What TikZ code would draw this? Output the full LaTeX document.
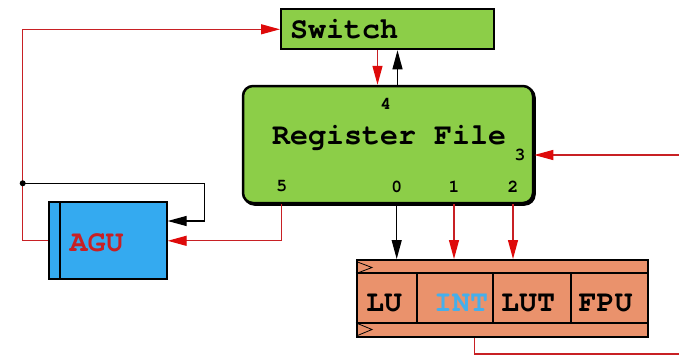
\documentclass[tikz,border=0pt]{standalone}
\usepackage{fontspec}
\newfontfamily\slabmono{TeX Gyre Cursor}
\usetikzlibrary{arrows.meta,calc}
\definecolor{rfgreen}{RGB}{140,206,72}
\definecolor{agublue}{RGB}{52,170,240}
\definecolor{eusalmon}{RGB}{234,146,108}
\definecolor{wirered}{RGB}{200,32,36}
\definecolor{headred}{RGB}{222,10,10}
\definecolor{intblue}{RGB}{70,175,235}
\begin{document}
\begin{tikzpicture}[x=1pt,y=-1pt,
  block/.style={draw=black, line width=2pt, inner sep=0pt},
  lbl/.style={font=\slabmono\bfseries\fontsize{30}{30}\selectfont, inner sep=0pt},
  port/.style={font=\slabmono\bfseries\fontsize{18}{18}\selectfont, inner sep=0pt},
  wire/.style={line width=1.2pt, draw=black},
  redwire/.style={line width=1.2pt, draw=wirered},
  arr/.style={-{Triangle[length=19pt,width=10pt]}},
  redarr/.style={-{Triangle[length=19pt,width=10pt,color=headred,fill=headred]}},
  clk/.style={line width=0.8pt}]
\useasboundingbox (0,0) rectangle (679,357);
\fill[white] (0,0) rectangle (679,357);

% blocks
\node[block, fill=rfgreen, minimum width=213pt, minimum height=40pt,
      text width=195pt, align=left, inner xsep=9pt, lbl] (sw) at (387.5,29.3) {Switch};
\node[block, fill=black, line width=2.5pt, rounded corners=10pt,
      minimum width=290pt, minimum height=117pt] (rfsh) at (389.5,146) {};
\node[block, fill=rfgreen, line width=2.5pt, rounded corners=10pt,
      minimum width=290pt, minimum height=117pt] (rf) at (388,144.5) {};
\node[lbl, anchor=base] (rft) at (389,144) {Register File};

\node[block, fill=agublue, minimum width=117.7pt, minimum height=77pt] (agu) at (107.8,240.8) {};
\draw[line width=2pt] ([xshift=12pt]agu.north west) -- ([xshift=12pt]agu.south west);
\node[lbl, anchor=base, text=wirered] (agut) at (96.5,251.7) {AGU};

\node[block, fill=eusalmon, minimum width=291pt, minimum height=77.3pt] (eu) at (502.2,298.65) {};
\draw[line width=2pt] ([yshift=-14.3pt]eu.north west) -- ([yshift=-14.3pt]eu.north east);
\draw[line width=2pt] ([yshift=15.6pt]eu.south west) -- ([yshift=15.6pt]eu.south east);
\foreach \xx in {416.7,493.3,571}
  \draw[line width=2pt] (\xx,274.3) -- (\xx,321.7);
\draw[clk] (357.5,262) -- (372,267.5) -- (357.5,273);
\draw[clk] (357.5,323.5) -- (372,329.5) -- (357.5,335.5);
\node[lbl, anchor=base] (lu)  at (384,311.7) {LU};
\node[lbl, anchor=base, text=intblue] (int) at (461,311.7) {INT};
\node[lbl, anchor=base] (lut) at (528,311.7) {LUT};
\node[lbl, anchor=base] (fpu) at (605.5,311.7) {FPU};

% port numbers of the register file
\node[port] (p4) at (385.7,104) {4};
\node[port] (p3) at (520,155) {3};
\node[port] (p5) at (281.7,186.5) {5};
\node[port] (p0) at (396.7,186.5) {0};
\node[port] (p1) at (454,186.5) {1};
\node[port] (p2) at (513,186.5) {2};

% connectors
\coordinate (jn) at (22.7,183.3);
\coordinate (bk) at (204.7,183.3);
\coordinate (rin) at (679,155);
\coordinate (rout) at (679,354);

\draw[redwire, redarr] (agu.west) -| (jn) |- (sw.west);
\draw[wire, arr] (jn) -- (bk) |- ([yshift=19.8pt]agu.east);
\fill (jn) circle (3pt);
\draw[redwire, redarr] (rf.south -| p5) |- (agu.east);

\draw[redwire, redarr] ([xshift=-10pt]sw.south) -- ([xshift=-10pt]sw.south |- rf.north);
\draw[wire, arr] ([xshift=10pt]sw.south |- rf.north) -- ([xshift=10pt]sw.south);

\draw[wire, arr] (rf.south -| p0) -- (eu.north -| p0);
\draw[redwire, redarr] (rf.south -| p1) -- (eu.north -| p1);
\draw[redwire, redarr] (rf.south -| p2) -- (eu.north -| p2);

\draw[redwire, redarr] (rin) -- (rin -| rf.east);
\draw[redwire] ([xshift=-27.9pt]eu.south) |- (rout);
\end{tikzpicture}
\end{document}
